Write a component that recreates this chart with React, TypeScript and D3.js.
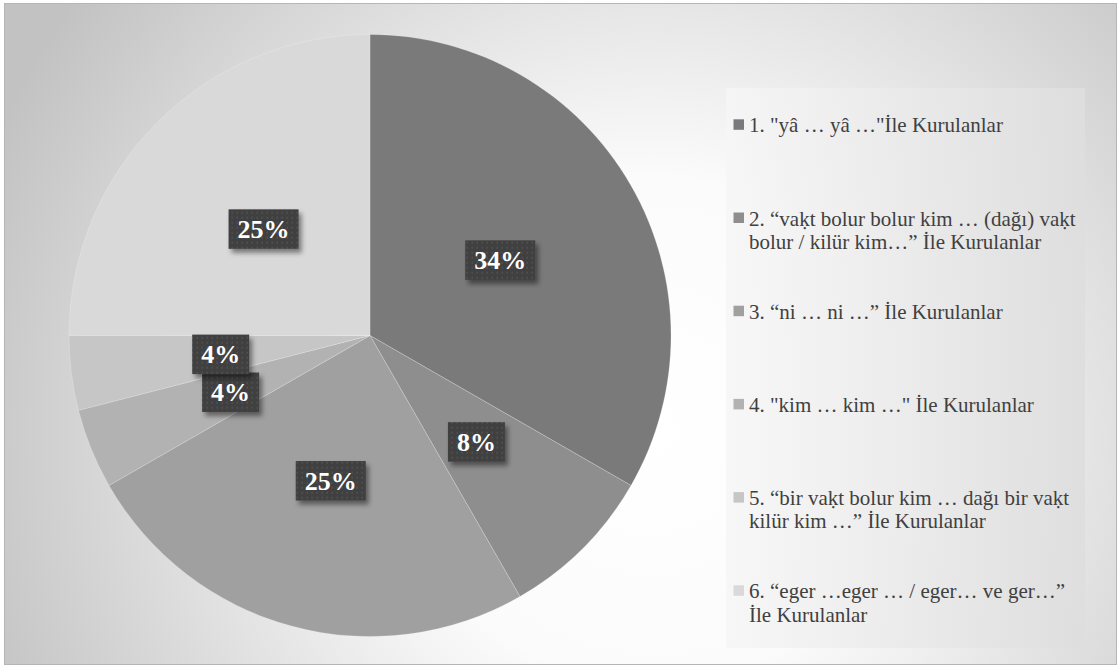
import React from 'react';
import * as d3 from 'd3';

const categories: string[] = [
  '1. "yâ … yâ …"İle Kurulanlar',
  '2. “vaḳt bolur bolur kim … (dağı) vaḳt\nbolur / kilür kim…” İle Kurulanlar',
  '3. “ni … ni …” İle Kurulanlar',
  '4. "kim … kim …" İle Kurulanlar',
  '5. “bir vaḳt bolur kim … dağı bir vaḳt\nkilür kim …” İle Kurulanlar',
  '6. “eger …eger … / eger… ve ger…”\nİle Kurulanlar',
];
const values: number[] = [33.3, 8.4, 25, 4.3, 4.0, 25];
const percentLabels: string[] = ['34%', '8%', '25%', '4%', '4%', '25%'];

const colors = ['#7a7a7a', '#8e8e8e', '#a0a0a0', '#b2b2b2', '#c6c6c6', '#d9d9d9'];

const W = 1118;
const H = 667;
const cx = 370;
const cy = 335.5;
const R = 301;
const SERIF = 'Liberation Serif';

function labelWidth(s: string, fs: number) {
  let w = 0;
  for (const ch of s) w += ch === '%' ? 1.0 : 0.5;
  return w * fs;
}

export default function App() {
  const pie = d3.pie<number>().sort(null).value((d) => d)(values);
  const arc = d3.arc<d3.PieArcDatum<number>>().innerRadius(0).outerRadius(R);

  const legendX = 733.5;
  const legendTextX = 749;
  const legendStep = d3.scaleLinear().domain([0, 5]).range([132.3, 598.3]);
  const lineH = 23.3;
  const labelFs = 26;

  return (
    <svg
      width={W}
      height={H}
      fontFamily={SERIF}
      style={{ position: 'absolute', left: 0, top: 0, fontFamily: SERIF }}
    >
      <style>{`text, tspan { font-family: "Liberation Serif", serif; }`}</style>
      <defs>
        <radialGradient id="bg" gradientUnits="userSpaceOnUse" cx={650} cy={430} r={720}>
          <stop offset="0" stopColor="#ffffff" />
          <stop offset="0.35" stopColor="#fbfbfb" />
          <stop offset="1" stopColor="#c2c2c2" />
        </radialGradient>
        <linearGradient id="lg" x1="0" x2="1" y1="0" y2="0">
          <stop offset="0" stopColor="#f6f6f6" stopOpacity="0.85" />
          <stop offset="1" stopColor="#dedede" stopOpacity="0.95" />
        </linearGradient>
        <pattern id="dots" width="5" height="5" patternUnits="userSpaceOnUse">
          <rect width="5" height="5" fill="#3f3f3f" />
          <rect x="1.5" y="1.5" width="1.6" height="1.6" fill="#565656" />
        </pattern>
        <filter id="shadow" x="-30%" y="-30%" width="170%" height="180%">
          <feDropShadow dx="3" dy="4" stdDeviation="2.5" floodColor="#000" floodOpacity="0.45" />
        </filter>
      </defs>

      <rect x={4.5} y={3.5} width={1112} height={661} fill="url(#bg)" stroke="#b5b5b5" strokeWidth={1} />

      <rect x={726} y={88} width={359} height={560} fill="url(#lg)" />

      <g transform={`translate(${cx},${cy})`}>
        {pie.map((d, i) => (
          <path
            key={i}
            d={arc(d) || ''}
            fill={colors[i]}
            stroke="#ffffff"
            strokeOpacity={0.25}
            strokeWidth={0.75}
          />
        ))}
        {pie.map((d, i) => {
          const [x, y] = arc.centroid(d);
          const w = labelWidth(percentLabels[i], labelFs) + 18;
          const h = 39.5;
          return (
            <g key={'l' + i}>
              <rect
                x={x - w / 2}
                y={y - h / 2}
                width={w}
                height={h}
                fill="url(#dots)"
                filter="url(#shadow)"
              />
              <text
                x={x}
                y={y + 9}
                textAnchor="middle"
                fill="#ffffff"
                style={{ fontFamily: SERIF }}
                fontWeight="bold"
                fontSize={labelFs}
              >
                {percentLabels[i]}
              </text>
            </g>
          );
        })}
      </g>

      {categories.map((c, i) => {
        const base = legendStep(i);
        const lines = c.split('\n');
        return (
          <g key={'lg' + i}>
            <rect x={legendX} y={base - 13} width={10.5} height={10.5} fill={colors[i]} />
            <text x={legendTextX} y={base} fill="#404040" style={{ fontFamily: SERIF }} fontSize={21}>
              {lines.map((ln, j) => (
                <tspan key={j} x={legendTextX} y={base + j * lineH}>
                  {ln}
                </tspan>
              ))}
            </text>
          </g>
        );
      })}
    </svg>
  );
}
